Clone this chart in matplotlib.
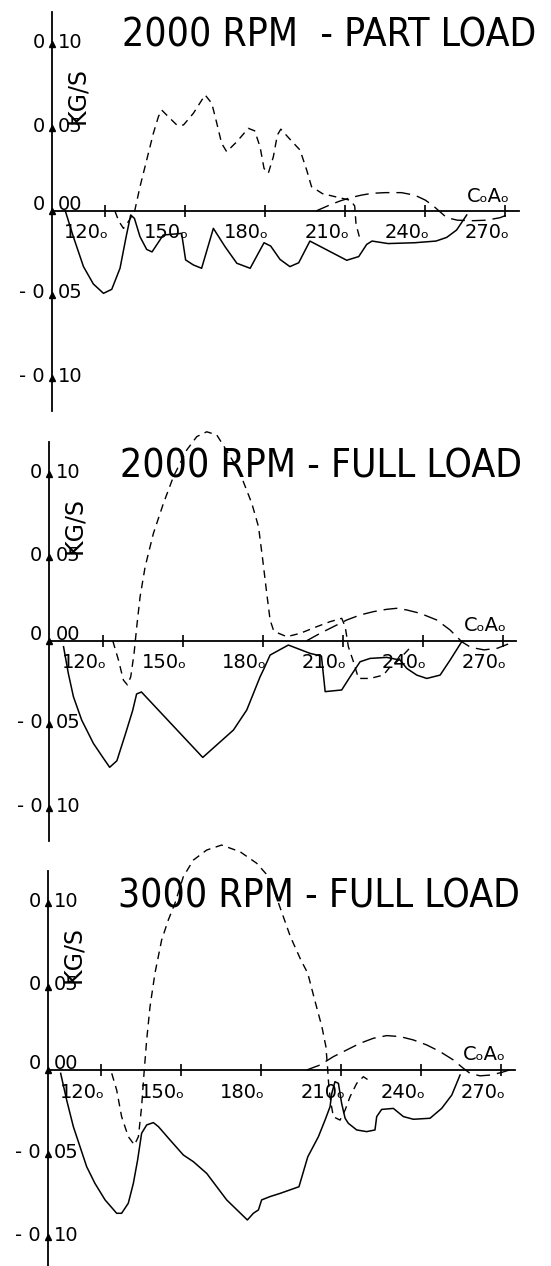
import matplotlib
matplotlib.use('Agg')
import matplotlib.pyplot as plt
from matplotlib import font_manager

# ---- data (crank angle in degrees, mass flow in kg/s) ----
x_ticks = [120, 150, 180, 210, 240, 270]
y_ticks = [-0.10, -0.05, 0.00, 0.05, 0.10]
titles = ['2000 RPM  - PART LOAD', '2000 RPM - FULL LOAD', '3000 RPM - FULL LOAD']

# 2000 RPM part load
p1_solid_ca = [105, 108, 111.8, 115.5, 119.3, 122.4, 125.5, 127.8, 129.5, 130.9, 133, 135.5, 137.5,
               141.7, 148.6, 150.1, 153, 156.1, 160.5, 164.9, 169.3, 174.3, 179.5, 182, 185.5,
               189.2, 192.5, 196.7, 210.5, 215, 218, 220, 226, 236, 244, 248, 251.7, 255.5]
p1_solid = [0, -0.0154, -0.0333, -0.0437, -0.0493, -0.0469, -0.0343, -0.0154, -0.0024, -0.0044,
            -0.0154, -0.023, -0.0245, -0.0144, -0.0134, -0.0293, -0.0323, -0.0343, -0.0104,
            -0.0214, -0.0313, -0.0343, -0.019, -0.021, -0.029, -0.0333, -0.031, -0.018, -0.0295,
            -0.0273, -0.02, -0.018, -0.0195, -0.019, -0.018, -0.0158, -0.0114, -0.0024]
p1_short_ca = [123.6, 125, 126.8, 128.8, 131, 133, 135.5, 138, 139.9, 141.1, 143.6, 146.8, 149.3,
               153, 157.4, 159.9, 161.8, 163.6, 165.5, 169.3, 173.6, 176, 178, 179.5, 181.1, 183,
               184.5, 185.8, 189.6, 193, 195.5, 197.3, 201.4, 206.6, 211.9, 213.5, 214, 215.5]
p1_short = [0, -0.006, -0.0104, -0.006, 0, 0.0146, 0.0305, 0.0465, 0.0565, 0.0605, 0.0565, 0.0515,
            0.0515, 0.0585, 0.0695, 0.0645, 0.0525, 0.0405, 0.0355, 0.0415, 0.0495, 0.048, 0.0385,
            0.0255, 0.0226, 0.0325, 0.0455, 0.049, 0.0423, 0.0365, 0.0245, 0.0146, 0.0104, 0.0084,
            0.0064, 0.003, -0.008, -0.017]
p1_long_ca = [199, 204, 208, 212, 216, 220, 225, 231, 236, 240, 243, 245.5, 248, 252, 258, 263,
              268, 272]
p1_long = [0, 0.0035, 0.006, 0.008, 0.0095, 0.0106, 0.011, 0.011, 0.0095, 0.0065, 0.003, -0.0005,
           -0.004, -0.0055, -0.0058, -0.0055, -0.004, -0.0015]

# 2000 RPM full load
p2_solid_ca = [105.3, 107.1, 109, 112.1, 116.5, 120.3, 122.6, 125.3, 128.5, 131.2, 132.7, 134.5,
               157.5, 169, 174, 179, 180.5, 182.75, 189.6, 197.75, 202, 203.4, 209.6, 212.75,
               216.5, 220.25, 226.5, 231.5, 234, 237.75, 241.5, 246.5, 250.25, 254.6]
p2_solid = [-0.0036, -0.0196, -0.0335, -0.0475, -0.0615, -0.0705, -0.0758, -0.0719, -0.0559,
            -0.0419, -0.0319, -0.0307, -0.0699, -0.0535, -0.0415, -0.0216, -0.0166, -0.0086,
            -0.0026, -0.0076, -0.0092, -0.0305, -0.0295, -0.0216, -0.0126, -0.0106, -0.01, -0.0116,
            -0.0166, -0.0206, -0.0226, -0.0206, -0.0116, -0.0006]
p2_short_ca = [123.75, 125.9, 127.75, 129.25, 130.5, 131.75, 132.75, 134, 135.9, 139, 142.75,
               146.5, 151.5, 155.25, 159, 162.75, 167.1, 171.5, 175.9, 178.4, 180, 181.5, 182.75,
               184, 186, 189, 194, 200.25, 205.25, 209.6, 210.9, 212.1, 214, 215.9, 220.25,
               225.25, 227.75, 230.25, 236]
p2_short = [0, -0.0116, -0.0236, -0.0265, -0.0216, -0.0076, 0.0084, 0.0263, 0.0443, 0.0643,
            0.0822, 0.0982, 0.1142, 0.1222, 0.1251, 0.1232, 0.1122, 0.1002, 0.0822, 0.0683,
            0.0483, 0.0283, 0.0124, 0.0064, 0.0044, 0.0024, 0.0044, 0.0084, 0.0114, 0.0134,
            0.0084, -0.0036, -0.0126, -0.0226, -0.0226, -0.0206, -0.0156, -0.0126, -0.003]
p2_long_ca = [196.5, 201.5, 206.5, 211.5, 216.5, 221.5, 226.5, 230.25, 234, 239, 245.25, 250.25,
              254.6, 258, 263, 268, 272]
p2_long = [0, 0.0044, 0.0084, 0.0124, 0.0154, 0.0174, 0.0188, 0.0194, 0.0184, 0.0164, 0.0124,
           0.0064, -0.0006, -0.004, -0.0055, -0.0045, -0.002]

# 3000 RPM full load
p3_solid_ca = [104.75, 107, 109.5, 112, 114.5, 117.6, 121.4, 125.75, 127.6, 130.1, 132, 133.6,
               135.1, 137, 139.5, 141.4, 145.75, 150.75, 154.5, 159.5, 167, 174.75, 177, 178.9,
               180.1, 183.25, 187, 194.1, 197.4, 201.4, 203.9, 205.75, 206.4, 207.6, 208.9, 210.1,
               211.4, 212.6, 215.75, 219.5, 222.6, 223.25, 225.1, 229.5, 233.25, 237, 243.25,
               247.6, 251.4, 254.5]
p3_solid = [-0.002, -0.018, -0.0339, -0.0459, -0.0579, -0.0679, -0.0778, -0.0858, -0.0858,
            -0.0798, -0.0679, -0.0539, -0.0379, -0.0329, -0.0315, -0.0339, -0.0419, -0.0509,
            -0.0549, -0.0619, -0.0778, -0.0898, -0.0858, -0.0838, -0.0778, -0.0758, -0.0739,
            -0.0699, -0.052, -0.0399, -0.0299, -0.022, -0.014, -0.007, -0.008, -0.02, -0.0289,
            -0.0319, -0.0359, -0.0369, -0.0359, -0.0279, -0.0236, -0.023, -0.0279, -0.0295,
            -0.0289, -0.023, -0.015, -0.003]
p3_short_ca = [123.9, 125.75, 127.6, 130.1, 132.4, 133.9, 135.1, 136, 137, 138.25, 140.1, 142.6,
               145.1, 147.6, 150.75, 154.5, 159.5, 165.1, 172, 178.25, 183.25, 186.9, 190.9,
               194.8, 197.4, 200, 202.7, 204.2, 204.8, 205.3, 206, 207, 209.5, 211.4, 213.25,
               215.75, 218.25, 220.1]
p3_short = [-0.002, -0.012, -0.0279, -0.0399, -0.0449, -0.0399, -0.022, -0.002, 0.018, 0.0379,
            0.0579, 0.0778, 0.0898, 0.0998, 0.1158, 0.1257, 0.1317, 0.1347, 0.1307, 0.1238,
            0.1148, 0.0978, 0.0798, 0.0659, 0.0579, 0.0419, 0.0259, 0.014, 0.002, -0.010, -0.019,
            -0.028, -0.030, -0.024, -0.016, -0.008, -0.004, -0.006]
p3_long_ca = [197, 202, 207, 212, 217, 222, 227, 232, 237, 242, 247, 252, 255.75, 258.25, 262,
              266, 270, 273]
p3_long = [0, 0.003, 0.008, 0.012, 0.016, 0.019, 0.0206, 0.02, 0.018, 0.015, 0.011, 0.006, 0.001,
           -0.002, -0.0035, -0.003, -0.0015, 0]

panels = [
    (p1_solid_ca, p1_solid, p1_short_ca, p1_short, p1_long_ca, p1_long),
    (p2_solid_ca, p2_solid, p2_short_ca, p2_short, p2_long_ca, p2_long),
    (p3_solid_ca, p3_solid, p3_short_ca, p3_short, p3_long_ca, p3_long),
]

# ---- layout (pixels of a 551 x 1266 page) ----
W, H = 551, 1266
PX_DEG, PX_UNIT = 2.667, 1670
XLIM, YLIM = (95, 285), (-0.135, 0.145)
origins = [(52, 211), (49.4, 640.7), (48, 1070)]      # pixel of (100 deg, 0 kg/s)
title_pos = [(121.5, 46.7), (120, 478), (118, 907.5)]  # left, baseline
left_bounds = [(-0.12, 0.119), (-0.12, 0.119), (-0.13, 0.119)]

sans = ['DejaVu Sans']
# narrow plotter-like lettering for the titles, whichever narrow face exists
fonts = font_manager.fontManager.ttflist
title_kw = dict(family=['DejaVu Sans Mono'], fontsize=23.7)
if any(f.name == 'Liberation Sans Narrow' for f in fonts):
    title_kw = dict(family=['Liberation Sans Narrow'], fontsize=31.5)
elif any(f.name == 'DejaVu Sans' and f.stretch == 'condensed' for f in fonts):
    title_kw = dict(family=['DejaVu Sans'], fontstretch='condensed', fontsize=28)

fig = plt.figure(figsize=(W / 100, H / 100), dpi=100)

for i, (sx, sy, dx, dy, lx, ly) in enumerate(panels):
    ox, oy = origins[i]
    lpx = ox - (100 - XLIM[0]) * PX_DEG
    bpx = oy - YLIM[0] * PX_UNIT
    wpx = (XLIM[1] - XLIM[0]) * PX_DEG
    hpx = (YLIM[1] - YLIM[0]) * PX_UNIT
    ax = fig.add_axes([lpx / W, 1 - bpx / H, wpx / W, hpx / H])
    ax.patch.set_visible(False)
    ax.set_xlim(*XLIM)
    ax.set_ylim(*YLIM)

    ax.plot(sx, sy, color='black', lw=1.1, solid_joinstyle='round')
    ax.plot(dx, dy, color='black', lw=1.0, dashes=(5.5, 4))
    ax.plot(lx, ly, color='black', lw=1.0, dashes=(10, 5))

    # axes through the origin
    for s in ['top', 'right']:
        ax.spines[s].set_visible(False)
    ax.spines['bottom'].set_position(('data', 0))
    ax.spines['left'].set_position(('data', 100))
    ax.spines['bottom'].set_bounds(100, 275)
    ax.spines['left'].set_bounds(*left_bounds[i])
    ax.spines['bottom'].set_linewidth(1.3)
    ax.spines['left'].set_linewidth(1.3)
    ax.set_xticks(x_ticks)
    ax.set_xticklabels([])
    ax.set_yticks([])
    ax.tick_params(axis='x', direction='inout', length=9, width=1.2, color='black')

    # x tick labels
    for t in x_ticks:
        ax.annotate(f'{t}\u2092', xy=(t, 0), xytext=(4, -27.5), textcoords='offset pixels',
                    ha='right', va='baseline', fontsize=14, family=sans)

    # y tick labels with the arrow-head as the decimal point
    ax.plot([100] * len(y_ticks), y_ticks, '^', color='black', ms=4.5, clip_on=False)
    for v in y_ticks:
        whole, frac = f'{abs(v):.2f}'.split('.')
        left = ('- ' if v < 0 else '') + whole
        off = 1 if v == 0 else -4
        ax.annotate(left, xy=(100, v), xytext=(-7, off), textcoords='offset pixels',
                    ha='right', va='baseline', fontsize=14, family=sans)
        ax.annotate(frac, xy=(100, v), xytext=(6, off), textcoords='offset pixels',
                    ha='left', va='baseline', fontsize=14, family=sans)

    ax.annotate('KG/S', xy=(100, 0.069), xytext=(25, 0), textcoords='offset pixels',
                rotation=90, ha='center', va='center', fontsize=17, family=sans)
    ax.annotate('C\u2092A\u2092', xy=(255.5, 0), xytext=(0, 9.5), textcoords='offset pixels',
                ha='left', va='baseline', fontsize=14, family=sans)

    tx, ty = title_pos[i]
    fig.text(tx / W, 1 - ty / H, titles[i], ha='left', va='baseline', **title_kw)

fig.savefig('out.png', dpi=100, facecolor='white')
